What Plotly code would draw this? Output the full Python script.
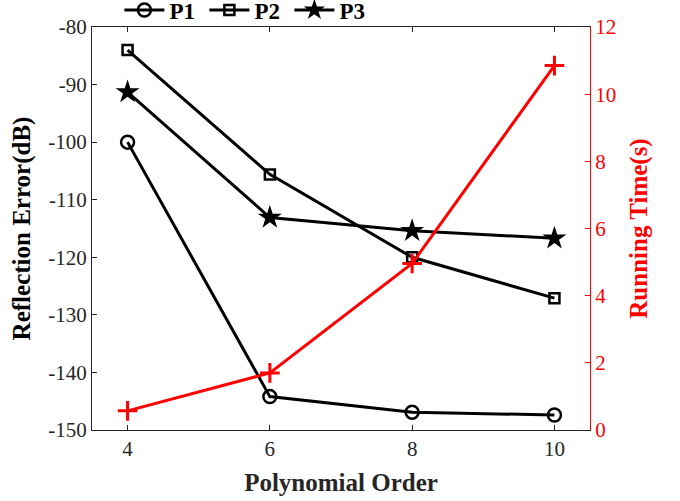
import plotly.graph_objects as go

# Polynomial order vs reflection error / running time
orders = [4, 6, 8, 10]
p1_error = [-100.0, -144.2, -146.9, -147.4]
p2_error = [-84.0, -105.6, -120.0, -127.1]
p3_error = [-91.3, -113.1, -115.4, -116.7]
run_time = [0.57, 1.7, 4.96, 10.85]

left_ticks = [-150, -140, -130, -120, -110, -100, -90, -80]
left_labels = ["-150", "-140", "-130", "-120", "-110", "-100", "-90", "-80"]
right_ticks = [0, 2, 4, 6, 8, 10, 12]

serif = "Liberation Serif, Times New Roman, serif"
tick_col = "#262626"

fig = go.Figure()

fig.add_trace(go.Scatter(
    x=orders, y=p1_error, name="<b>P1</b>", mode="lines+markers",
    line=dict(color="black", width=3),
    marker=dict(symbol="circle-open", size=13, color="black", line=dict(width=2.5)),
))
fig.add_trace(go.Scatter(
    x=orders, y=p2_error, name="<b>P2</b>", mode="lines+markers",
    line=dict(color="black", width=3),
    marker=dict(symbol="square-open", size=10, color="black", line=dict(width=2.5)),
))
fig.add_trace(go.Scatter(
    x=orders, y=p3_error, name="<b>P3</b>", mode="lines+markers",
    line=dict(color="black", width=3),
    marker=dict(symbol="star", size=18, color="black", line=dict(width=0)),
))
fig.add_trace(go.Scatter(
    x=orders, y=run_time, name="time", mode="lines+markers", yaxis="y2",
    showlegend=False,
    line=dict(color="#ff0000", width=3),
    marker=dict(symbol="cross-thin", size=14, color="#ff0000",
                line=dict(width=3, color="#ff0000")),
))

fig.update_layout(
    width=680, height=501,
    margin=dict(l=92, r=90, t=27, b=71, autoexpand=False),
    paper_bgcolor="white", plot_bgcolor="white",
    font=dict(family=serif, size=21, color=tick_col),
    showlegend=True,
    legend=dict(
        orientation="h", x=0.055, xanchor="left", y=1.042, yanchor="middle",
        font=dict(family=serif, size=23, color="black"),
        bgcolor="rgba(0,0,0,0)", itemwidth=40, tracegroupgap=0,
        entrywidth=30, entrywidthmode="pixels",
        borderwidth=0,
    ),
    xaxis=dict(
        range=[3.5, 10.5], tickvals=orders, ticktext=[str(o) for o in orders],
        ticks="inside", ticklen=5, tickwidth=1, tickcolor=tick_col,
        showline=True, linecolor=tick_col, linewidth=1, mirror="ticks",
        showgrid=False, zeroline=False,
        title=dict(text="<b>Polynomial Order</b>", standoff=13,
                   font=dict(family=serif, size=25, color=tick_col)),
        tickfont=dict(family=serif, size=21, color=tick_col),
    ),
    yaxis=dict(
        range=[-150, -80], tickvals=left_ticks, ticktext=left_labels,
        ticks="inside", ticklen=5, tickwidth=1, tickcolor=tick_col,
        showline=True, linecolor=tick_col, linewidth=1,
        showgrid=False, zeroline=False,
        title=dict(text="<b>Reflection Error(dB)</b>", standoff=10,
                   font=dict(family=serif, size=25, color="black")),
        tickfont=dict(family=serif, size=21, color=tick_col),
    ),
    yaxis2=dict(
        range=[0, 12], tickvals=right_ticks, overlaying="y", side="right",
        ticks="inside", ticklen=5, tickwidth=1, tickcolor="#ff0000",
        showline=True, linecolor="#ff0000", linewidth=1,
        showgrid=False, zeroline=False,
        title=dict(text="<b>Running Time(s)</b>", standoff=14,
                   font=dict(family=serif, size=25, color="#ff0000")),
        tickfont=dict(family=serif, size=21, color="#ff0000"),
    ),
)

fig.write_html("out.html")
